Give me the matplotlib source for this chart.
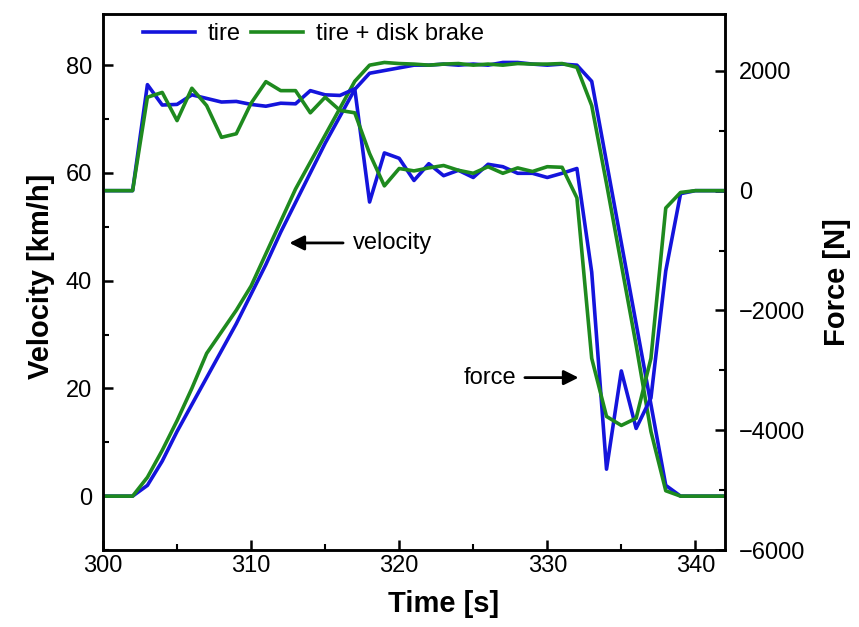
import numpy as np
import matplotlib
matplotlib.use('Agg')
import matplotlib.pyplot as plt
from matplotlib.ticker import MultipleLocator

plt.rcParams['font.family'] = ['Liberation Sans', 'DejaVu Sans']

# tempo [s]
tempo = np.arange(300, 343)

# velocidade [km/h]
vel_pneu = [0, 0, 0, 2, 6.5, 12, 17, 22, 27, 32, 37.5, 43, 49, 54.5, 60, 65.5, 70.5, 75.5,
            78.5, 79, 79.5, 80, 80, 80.2, 80, 80.2, 80, 80.5, 80.5, 80.2, 80, 80.2, 80,
            77, 62, 47, 32, 17, 2, 0, 0, 0, 0]
vel_disco = [0, 0, 0, 3.5, 8.5, 14, 20, 26.5, 30.5, 34.5, 39, 45, 51, 57, 62, 67, 72, 77,
             80, 80.5, 80.3, 80.2, 80, 80.2, 80.3, 80, 80.2, 80, 80.3, 80.2, 80.2, 80.3, 79.6,
             72.5, 58, 43, 28, 12, 1, 0, 0, 0, 0]

# força [N]
forca_pneu = [0, 0, 0, 1770, 1430, 1440, 1600, 1540, 1480, 1490, 1440, 1410, 1460, 1450,
              1670, 1600, 1590, 1700, -190, 630, 540, 170, 450, 250, 340, 220, 440, 400,
              290, 290, 220, 290, 370, -1360, -4650, -3010, -3970, -3460, -1340, -50, 0, 0, 0]
forca_disco = [0, 0, 0, 1560, 1640, 1170, 1710, 1420, 890, 950, 1460, 1820, 1670, 1670,
               1300, 1560, 1340, 1300, 620, 80, 370, 330, 380, 420, 340, 290, 400, 290,
               380, 320, 400, 390, -120, -2800, -3770, -3920, -3800, -2800, -290, -30, 0, 0, 0]

cor_pneu = '#1414dc'
cor_disco = '#1e8a1e'

fig = plt.figure(figsize=(8.59, 6.27), dpi=100)
ax = fig.add_axes([0.1199, 0.1228, 0.7241, 0.8549])
ax2 = ax.twinx()

ax.plot(tempo, vel_pneu, color=cor_pneu, lw=2.6, label='tire')
ax.plot(tempo, vel_disco, color=cor_disco, lw=2.6, label='tire + disk brake')
ax2.plot(tempo, forca_pneu, color=cor_pneu, lw=2.6)
ax2.plot(tempo, forca_disco, color=cor_disco, lw=2.6)

ax.set_xlim(300, 342)
ax.set_ylim(-10, 89.5)
ax2.set_ylim(-6000, 2950)

ax.xaxis.set_major_locator(MultipleLocator(10))
ax.xaxis.set_minor_locator(MultipleLocator(5))
ax.yaxis.set_major_locator(MultipleLocator(20))
ax.yaxis.set_minor_locator(MultipleLocator(10))
ax2.yaxis.set_major_locator(MultipleLocator(2000))
ax2.yaxis.set_minor_locator(MultipleLocator(1000))

for a in (ax, ax2):
    for s in a.spines.values():
        s.set_linewidth(1.8)
    a.tick_params(which='major', direction='in', length=7, width=1.8, labelsize=17)
    a.tick_params(which='minor', direction='in', length=4, width=1.5)
ax.tick_params(which='both', right=False, top=False)
ax.tick_params(axis='y', which='major', pad=8)
ax2.tick_params(which='both', left=False, top=False)
ax2.tick_params(axis='y', which='major', pad=10)

ax.set_xlabel('Time [s]', fontsize=21, fontweight='bold')
ax.xaxis.set_label_coords(0.547, -0.075)
ax.set_ylabel('Velocity [km/h]', fontsize=21, fontweight='bold')
ax.yaxis.set_label_coords(-0.077, 0.51)
ax2.set_ylabel('Force [N]', fontsize=21, fontweight='bold')
ax2.yaxis.set_label_coords(1.157, 0.50)

ax.legend(loc='center left', bbox_to_anchor=(0.064, 0.962), ncol=2, frameon=False,
          fontsize=17, handlelength=2.2, handletextpad=0.55, columnspacing=0.45,
          borderpad=0, borderaxespad=0)

# setas indicativas
seta = dict(arrowstyle='-|>', lw=2, color='black', mutation_scale=22)
ax.annotate('', xy=(312.4, 47), xytext=(316.4, 47), arrowprops=seta)
ax.text(316.9, 47, 'velocity', fontsize=17, va='center', ha='left')
ax.annotate('', xy=(332.3, 22), xytext=(328.3, 22), arrowprops=seta)
ax.text(327.9, 22, 'force', fontsize=17, va='center', ha='right')

plt.savefig('out.png', dpi=100)
